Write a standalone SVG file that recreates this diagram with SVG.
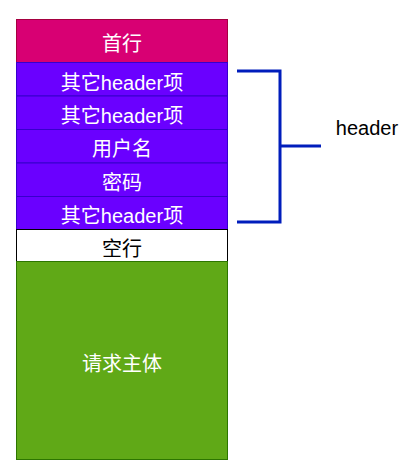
<svg xmlns="http://www.w3.org/2000/svg" width="419" height="473" viewBox="0 0 419 473">
<style>
text{font-family:"Liberation Sans","Noto Sans CJK SC",sans-serif;font-size:20px;text-anchor:middle;dominant-baseline:central}
.w{fill:#fff}
.pur{fill:#6a00ff;stroke:#3700cc;stroke-width:1}
.br{fill:none;stroke:#001dbc;stroke-width:3}
</style>
<rect width="419" height="473" fill="#fff"/>
<g id="first-line"><rect x="16.5" y="19.5" width="211" height="43" fill="#d80073" stroke="#a50040"/><text class="w" x="122" y="43.5">首行</text></g>
<g id="h1"><rect class="pur" x="16.5" y="62.5" width="211" height="33.5"/><text class="w" x="122" y="82.5">其它header项</text></g>
<g id="h2"><rect class="pur" x="16.5" y="96" width="211" height="33.5"/><text class="w" x="122" y="116">其它header项</text></g>
<g id="user"><rect class="pur" x="16.5" y="129.5" width="211" height="33.5"/><text class="w" x="122" y="149">用户名</text></g>
<g id="pwd"><rect class="pur" x="16.5" y="163" width="211" height="33.5"/><text class="w" x="122" y="183">密码</text></g>
<g id="h3"><rect class="pur" x="16.5" y="196.5" width="211" height="33"/><text class="w" x="122" y="216">其它header项</text></g>
<g id="blank"><rect x="16.5" y="229.5" width="211" height="32" fill="#fff" stroke="#000"/><text x="122" y="248.5" fill="#000">空行</text></g>
<g id="body"><rect x="16.5" y="261.5" width="211" height="198" fill="#60a917" stroke="#2d7600"/><text class="w" x="122" y="364">请求主体</text></g>
<g id="connectors"><path class="br" d="M237 71H280V222H237M280 146H321"/></g>
<g id="header-label"><text x="367" y="135" fill="#000" style="dominant-baseline:auto">header</text></g>
</svg>
